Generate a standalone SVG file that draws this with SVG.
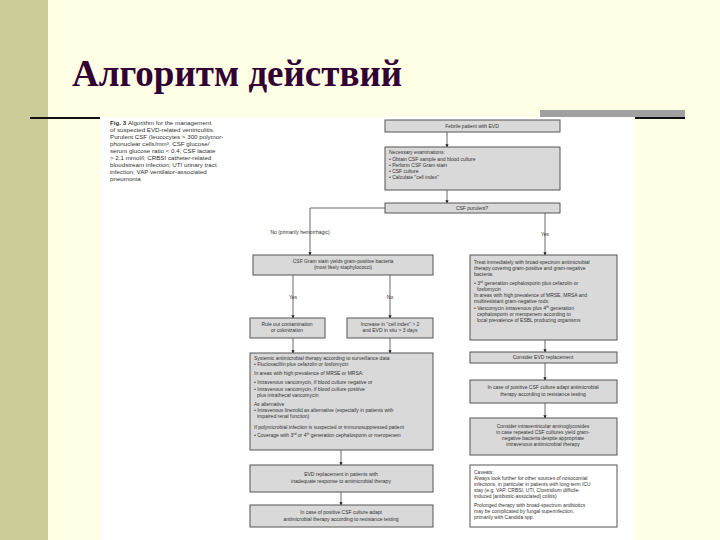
<svg xmlns="http://www.w3.org/2000/svg" width="720" height="540" viewBox="0 0 720 540">
<defs>
<marker id="ah" viewBox="0 0 6 6" refX="5" refY="3" markerWidth="4" markerHeight="4" orient="auto"><path d="M0,0L6,3L0,6z" fill="#222"/></marker>
<style>
.b{fill:#d9d9d9;stroke:#555;stroke-width:1}
.w{fill:#fff;stroke:#555;stroke-width:1}
.t{font-family:"Liberation Sans",Arial,sans-serif;font-size:5px;fill:#333}
.c{text-anchor:middle}
.ln{fill:none;stroke:#444;stroke-width:0.8}
.cap{font-family:"Liberation Sans",Arial,sans-serif;font-size:6.2px;fill:#333}
.ttl{font-family:"Liberation Serif","Times New Roman",serif;font-weight:bold;font-size:37px;fill:#330033}
</style>
</defs>
<rect width="720" height="540" fill="#ffffe6"/>
<rect x="0" y="0" width="48" height="540" fill="#cccc99"/>
<text x="72" y="86" class="ttl">Алгоритм действий</text>
<rect x="30" y="117" width="70" height="2" fill="#111"/>
<rect x="540" y="110" width="145" height="8" fill="#a0a0a0"/>
<rect x="635" y="117" width="50" height="2" fill="#111"/>
<rect x="100" y="117" width="535" height="423" fill="#fff"/>
<g id="caption" class="cap">
<text x="110" y="125" font-weight="bold">Fig. 3  <tspan font-weight="normal">Algorithm for the management</tspan></text>
<text x="110" y="132">of suspected EVD-related ventriculitis.</text>
<text x="110" y="139">Purulent CSF (leucocytes &gt; 300 polymor-</text>
<text x="110" y="146">phonuclear cells/mm³, CSF glucose/</text>
<text x="110" y="153">serum glucose ratio &lt; 0.4, CSF lactate</text>
<text x="110" y="160">&gt; 2.1 mmol/l; CRBSI catheter-related</text>
<text x="110" y="167">bloodstream infection; UTI urinary tract</text>
<text x="110" y="174">infection; VAP ventilator-associated</text>
<text x="110" y="181">pneumonia</text>
</g>
<g id="connectors" class="ln">
<path d="M447,132V147" marker-end="url(#ah)"/>
<path d="M447,190V203" marker-end="url(#ah)"/>
<path d="M385,208H310V255" marker-end="url(#ah)"/>
<path d="M560,208H545V255" marker-end="url(#ah)"/>
<path d="M293,275V318" marker-end="url(#ah)"/>
<path d="M390,275V318" marker-end="url(#ah)"/>
<path d="M293,338V353" marker-end="url(#ah)"/>
<path d="M390,338V353" marker-end="url(#ah)"/>
<path d="M341,450V465" marker-end="url(#ah)"/>
<path d="M341,492V505" marker-end="url(#ah)"/>
<path d="M545,340V352" marker-end="url(#ah)"/>
<path d="M545,363V380" marker-end="url(#ah)"/>
<path d="M545,403V418" marker-end="url(#ah)"/>
</g>
<g class="t">
<text x="300" y="234" class="c">No (primarily hemorrhagic)</text>
<text x="545" y="236" class="c">Yes</text>
<text x="293" y="299" class="c">Yes</text>
<text x="390" y="299" class="c">No</text>
</g>
<g id="n1"><rect class="b" x="385" y="120" width="175" height="12"/><text class="t c" x="472" y="128">Febrile patient with EVD</text></g>
<g id="n2"><rect class="b" x="385" y="147" width="175" height="43"/>
<text class="t" x="389" y="154">Necessary examinations:</text>
<text class="t" x="389" y="161">•  Obtain CSF sample and blood culture</text>
<text class="t" x="389" y="167">•  Perform CSF Gram stain</text>
<text class="t" x="389" y="173">•  CSF culture</text>
<text class="t" x="389" y="179">•  Calculate "cell index"</text></g>
<g id="n3"><rect class="b" x="385" y="203" width="175" height="10"/><text class="t c" x="472" y="210">CSF purulent?</text></g>
<g id="n4"><rect class="b" x="253" y="255" width="180" height="20"/>
<text class="t c" x="343" y="263">CSF Gram stain yields gram-positive bacteria</text>
<text class="t c" x="343" y="269">(most likely staphylococci)</text></g>
<g id="n5"><rect class="b" x="250" y="318" width="75" height="20"/>
<text class="t c" x="287" y="326">Rule out contamination</text>
<text class="t c" x="287" y="332">or colonization</text></g>
<g id="n6"><rect class="b" x="347" y="318" width="86" height="20"/>
<text class="t c" x="390" y="326">Increase in "cell index" &gt; 2</text>
<text class="t c" x="390" y="332">and EVD in situ &gt; 3 days</text></g>
<g id="n7"><rect class="b" x="250" y="353" width="183" height="97"/>
<text class="t" x="254" y="360">Systemic antimicrobial therapy according to surveillance data:</text>
<text class="t" x="254" y="366">•  Flucloxacillin plus cefazolin or fosfomycin</text>
<text class="t" x="254" y="375">In areas with high prevalence of MRSE or MRSA:</text>
<text class="t" x="254" y="384">•  Intravenous vancomycin, if blood culture negative or</text>
<text class="t" x="254" y="391">•  Intravenous vancomycin, if blood culture positive</text>
<text class="t" x="257" y="397">plus intrathecal vancomycin</text>
<text class="t" x="254" y="406">As alternative</text>
<text class="t" x="254" y="412">•  Intravenous linezolid as alternative (especially in patients with</text>
<text class="t" x="257" y="418">impaired renal function)</text>
<text class="t" x="254" y="429">If polymicrobial infection is suspected or immunosuppressed patient</text>
<text class="t" x="254" y="437">•  Coverage with 3<tspan font-size="3.5" dy="-2">rd</tspan><tspan dy="2"> or 4</tspan><tspan font-size="3.5" dy="-2">th</tspan><tspan dy="2"> generation cephalosporin or meropenem</tspan></text></g>
<g id="n8"><rect class="b" x="250" y="465" width="183" height="27"/>
<text class="t c" x="341" y="476">EVD replacement in patients with</text>
<text class="t c" x="341" y="483">inadequate response to antimicrobial therapy</text></g>
<g id="n9"><rect class="b" x="250" y="505" width="183" height="22"/>
<text class="t c" x="341" y="514">In case of positive CSF culture adapt</text>
<text class="t c" x="341" y="521">antimicrobial therapy according to resistance testing</text></g>
<g id="n10"><rect class="b" x="470" y="255" width="147" height="85"/>
<text class="t" x="474" y="264">Treat immediately with broad-spectrum antimicrobial</text>
<text class="t" x="474" y="270">therapy covering gram-positive and gram-negative</text>
<text class="t" x="474" y="276">bacteria:</text>
<text class="t" x="474" y="285">•  3<tspan font-size="3.5" dy="-2">rd</tspan><tspan dy="2"> generation cephalosporin plus cefazolin or</tspan></text>
<text class="t" x="477" y="291">fosfomycin</text>
<text class="t" x="474" y="297">In areas with high prevalence of MRSE, MRSA and</text>
<text class="t" x="474" y="303">multiresistant gram-negative rods:</text>
<text class="t" x="474" y="310">•  Vancomycin intravenous plus 4<tspan font-size="3.5" dy="-2">th</tspan><tspan dy="2"> generation</tspan></text>
<text class="t" x="477" y="316">cephalosporin or meropenem according to</text>
<text class="t" x="477" y="322">local prevalence of ESBL producing organisms</text></g>
<g id="n11"><rect class="b" x="470" y="352" width="147" height="11"/><text class="t c" x="543" y="359">Consider EVD replacement</text></g>
<g id="n12"><rect class="b" x="470" y="380" width="147" height="23"/>
<text class="t c" x="543" y="389">In case of positive CSF culture adapt antimicrobial</text>
<text class="t c" x="543" y="396">therapy according to resistance testing</text></g>
<g id="n13"><rect class="b" x="470" y="418" width="147" height="37"/>
<text class="t c" x="543" y="428">Consider intraventricular aminoglycosides</text>
<text class="t c" x="543" y="434">in case repeated CSF cultures yield gram-</text>
<text class="t c" x="543" y="440">negative bacteria despite appropriate</text>
<text class="t c" x="543" y="446">intravenous antimicrobial therapy</text></g>
<g id="n14"><rect class="w" x="470" y="465" width="147" height="62"/>
<text class="t" x="474" y="474">Caveats:</text>
<text class="t" x="474" y="480">Always look further for other sources of nosocomial</text>
<text class="t" x="474" y="486">infections, in particular in patients with long-term ICU</text>
<text class="t" x="474" y="492">stay (e.g. VAP, CRBSI, UTI, Clostridium difficile-</text>
<text class="t" x="474" y="498">induced [antibiotic-associated] colitis)</text>
<text class="t" x="474" y="507">Prolonged therapy with broad-spectrum antibiotics</text>
<text class="t" x="474" y="513">may be complicated by fungal superinfection,</text>
<text class="t" x="474" y="519">primarily with Candida spp.</text></g>
</svg>
